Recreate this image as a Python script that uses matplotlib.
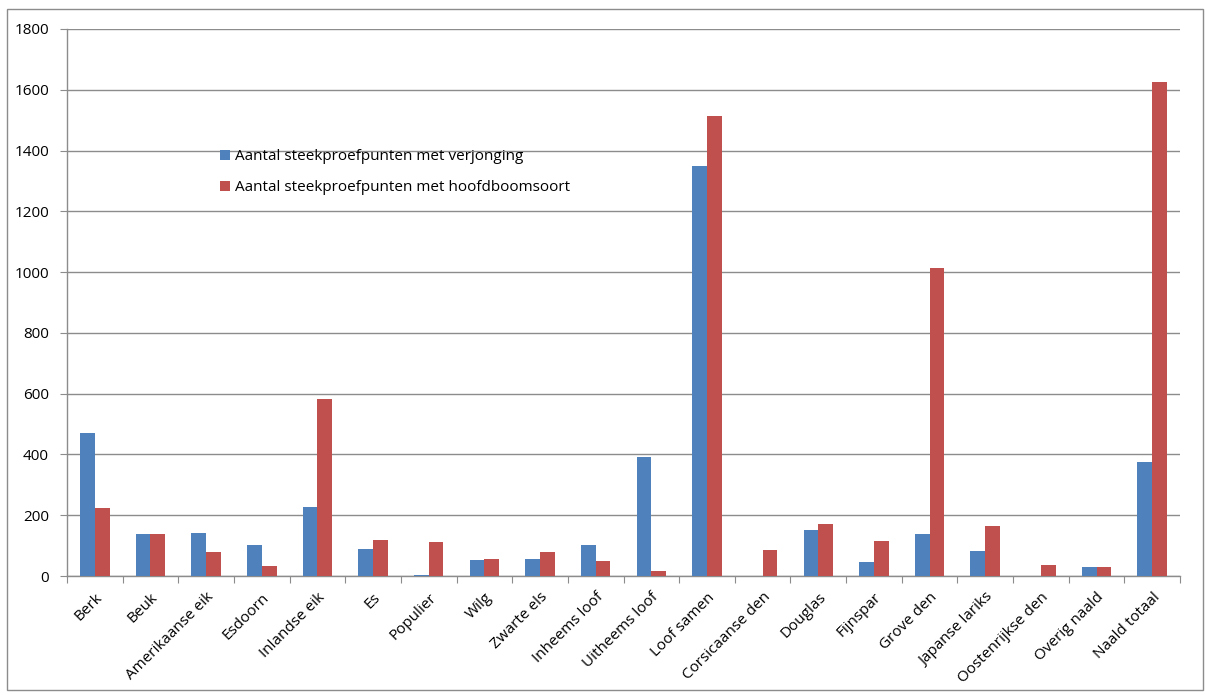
import matplotlib
matplotlib.use("Agg")
import matplotlib.pyplot as plt
import numpy as np
from matplotlib.patches import Rectangle

categories = ["Berk", "Beuk", "Amerikaanse eik", "Esdoorn", "Inlandse eik", "Es",
              "Populier", "Wilg", "Zwarte els", "Inheems loof", "Uitheems loof",
              "Loof samen", "Corsicaanse den", "Douglas", "Fijnspar", "Grove den",
              "Japanse lariks", "Oostenrijkse den", "Overig naald", "Naald totaal"]
verjonging = [470, 137, 141, 102, 227, 90, 4, 52, 56, 102, 390,
              1350, 0, 152, 46, 138, 81, 0, 29, 375]
hoofdboomsoort = [225, 139, 78, 34, 584, 118, 111, 56, 79, 50, 17,
                  1515, 87, 171, 115, 1015, 164, 36, 29, 1625]
series_names = ["Aantal steekproefpunten met verjonging",
                "Aantal steekproefpunten met hoofdboomsoort"]
yticks = [0, 200, 400, 600, 800, 1000, 1200, 1400, 1600, 1800]

plt.rcParams['font.family'] = ['Open Sans', 'DejaVu Sans']

fig = plt.figure(figsize=(12.05, 6.95), dpi=100)
ax = fig.add_axes([67/1205, 1-576/695, (1180-67)/1205, (576-29)/695])

x = np.arange(len(categories))
w = 0.265
ax.bar(x - w/2, verjonging, w, color="#4F81BD", label=series_names[0], zorder=3)
ax.bar(x + w/2, hoofdboomsoort, w, color="#C0504D", label=series_names[1], zorder=3)

ax.set_xlim(-0.5, len(categories) - 0.5)
ax.set_ylim(0, 1800)
ax.set_yticks(yticks)
ax.yaxis.grid(True, color="#8c8c8c", linewidth=1.0, zorder=0)
ax.set_axisbelow(True)

ax.set_xticks(np.arange(len(categories) + 1) - 0.5)
ax.set_xticklabels([])
ax.set_xticks(x, minor=True)
ax.set_xticklabels(categories, minor=True, rotation=45, ha="right",
                   rotation_mode="anchor", fontsize=11)
ax.tick_params(axis="x", which="minor", length=0, pad=10)
ax.tick_params(axis="x", which="major", length=5, color="#8c8c8c", direction="out")
ax.tick_params(axis="y", length=5, color="#8c8c8c", direction="out", labelsize=11, pad=8)

for s in ["top", "right"]:
    ax.spines[s].set_visible(False)
for s in ["left", "bottom"]:
    ax.spines[s].set_color("#8c8c8c")
    ax.spines[s].set_linewidth(1.0)

leg = fig.legend(loc="upper left", bbox_to_anchor=(214/1205, 1-143/695),
                 frameon=False, fontsize=11, handlelength=0.65, handleheight=0.65,
                 handletextpad=0.3, labelspacing=1.05, borderaxespad=0)

fig.patches.append(Rectangle((7/1205, 1-690/695), (1203-7)/1205, (690-9)/695,
                             transform=fig.transFigure, fill=False,
                             edgecolor="#8c8c8c", linewidth=1.0))

fig.savefig("out.png", dpi=100)
